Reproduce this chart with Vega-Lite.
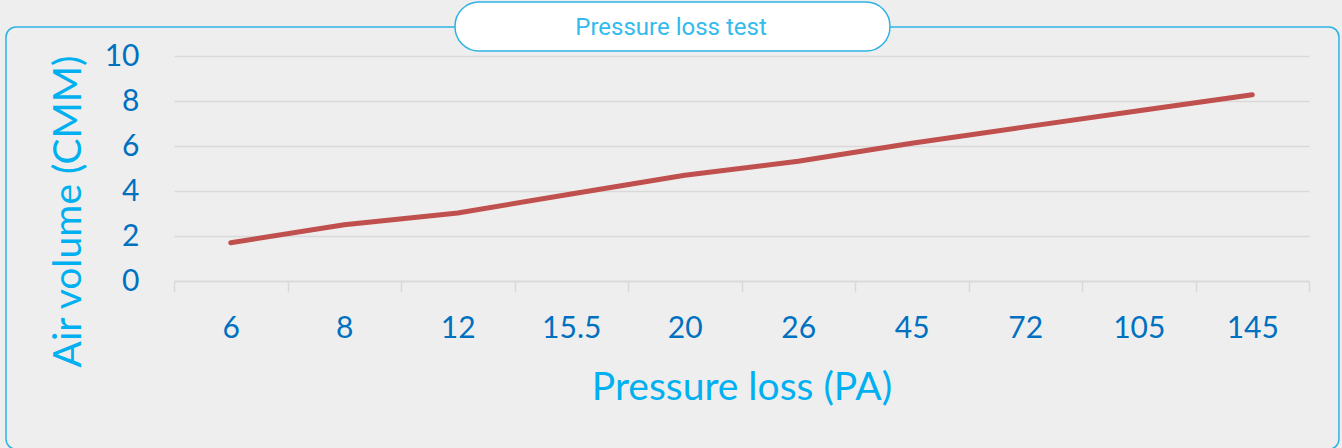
{
  "$schema": "https://vega.github.io/schema/vega-lite/v6.json",
  "width": 1135,
  "height": 225,
  "autosize": {"type": "none"},
  "padding": {"left": 174, "top": 56, "right": 33, "bottom": 167},
  "background": "#eeeeee",
  "config": {"view": {"stroke": null}, "font": "Lato"},
  "datasets": {
    "series": [
      {"pressure": "6", "volume": 1.7},
      {"pressure": "8", "volume": 2.5},
      {"pressure": "12", "volume": 3.02},
      {"pressure": "15.5", "volume": 3.87},
      {"pressure": "20", "volume": 4.7},
      {"pressure": "26", "volume": 5.32},
      {"pressure": "45", "volume": 6.12},
      {"pressure": "72", "volume": 6.85},
      {"pressure": "105", "volume": 7.57},
      {"pressure": "145", "volume": 8.28}
    ],
    "frame": [{"label": "Pressure loss test"}]
  },
  "layer": [
    {
      "data": {"name": "frame"},
      "layer": [
        {
          "mark": {"type": "rect", "filled": false, "stroke": "#2eb2e6", "strokeWidth": 1.5, "cornerRadius": 10},
          "encoding": {
            "x": {"datum": -1.98, "type": "quantitative", "scale": {"domain": [-0.5, 9.5], "nice": false, "zero": false}, "axis": null},
            "x2": {"datum": 9.764},
            "y": {"datum": 11.29, "type": "quantitative", "scale": {"domain": [0, 10], "nice": false, "zero": false}, "axis": null},
            "y2": {"datum": -7.47}
          }
        },
        {
          "mark": {"type": "rect", "fill": "#ffffff", "stroke": "#2eb2e6", "strokeWidth": 1.5, "cornerRadius": 24},
          "encoding": {
            "x": {"datum": 1.976, "type": "quantitative"},
            "x2": {"datum": 5.808},
            "y": {"datum": 12.4, "type": "quantitative"},
            "y2": {"datum": 10.22}
          }
        },
        {
          "mark": {"type": "text", "font": "Roboto", "fontSize": 24, "color": "#33bbee", "align": "center", "baseline": "middle"},
          "encoding": {
            "x": {"datum": 3.879, "type": "quantitative"},
            "y": {"datum": 11.244, "type": "quantitative"},
            "text": {"field": "label"}
          }
        }
      ]
    },
    {
      "data": {"name": "series"},
      "mark": {"type": "line", "color": "#c0504d", "strokeWidth": 5, "strokeCap": "round", "strokeJoin": "round"},
      "encoding": {
        "x": {
          "field": "pressure",
          "type": "ordinal",
          "sort": null,
          "bandPosition": 0.5,
          "scale": {"type": "band", "paddingInner": 0, "paddingOuter": 0},
          "axis": {
            "orient": "bottom",
            "title": "Pressure loss (PA)",
            "labelAngle": 0,
            "tickBand": "extent",
            "grid": false,
            "domainColor": "#d9d9d9",
            "domainWidth": 1.5,
            "tickColor": "#d9d9d9",
            "tickWidth": 1.5,
            "tickSize": 11,
            "labelFont": "Lato",
            "labelFontSize": 30,
            "labelColor": "#0070c0",
            "labelPadding": 36,
            "labelBaseline": "middle",
            "titleFont": "Lato",
            "titleFontSize": 39,
            "titleFontWeight": "normal",
            "titleColor": "#00b0f0",
            "titleBaseline": "alphabetic",
            "titleY": 118
          }
        },
        "y": {
          "field": "volume",
          "type": "quantitative",
          "scale": {"domain": [0, 10], "nice": false, "zero": false},
          "axis": {
            "orient": "left",
            "title": "Air volume (CMM)",
            "values": [0, 2, 4, 6, 8, 10],
            "ticks": false,
            "domain": false,
            "grid": true,
            "gridColor": "#d9d9d9",
            "gridWidth": 1.5,
            "labelFont": "Lato",
            "labelFontSize": 30,
            "labelColor": "#0070c0",
            "labelPadding": 35,
            "titleFont": "Lato",
            "titleFontSize": 39,
            "titleFontWeight": "normal",
            "titleColor": "#00b0f0",
            "titleAngle": -90,
            "titleAlign": "center",
            "titleBaseline": "middle",
            "titleX": -106,
            "titleY": 155
          }
        }
      }
    }
  ],
  "resolve": {
    "scale": {"x": "independent", "y": "independent"},
    "axis": {"x": "independent", "y": "independent"}
  }
}
